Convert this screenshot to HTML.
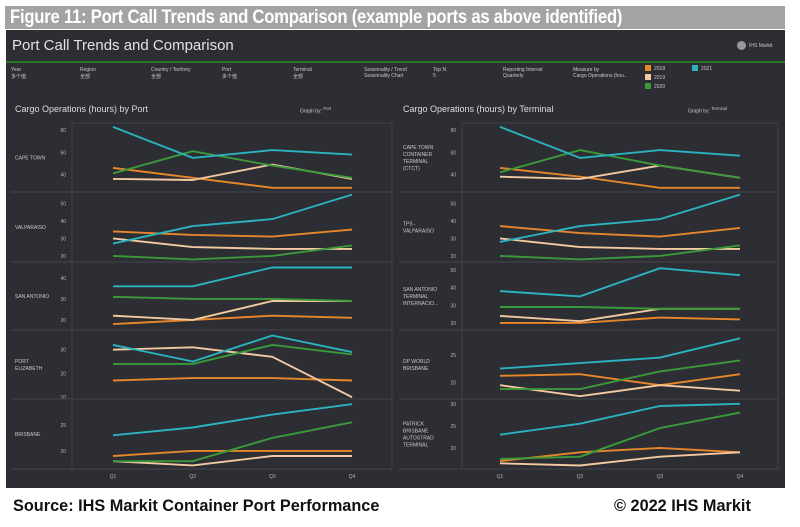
<!DOCTYPE html>
<html><head><meta charset="utf-8"><style>
body{margin:0;width:800px;height:527px;background:#fff;font-family:"Liberation Sans",sans-serif;position:relative;overflow:hidden}
.abs{position:absolute}
#titlebar{left:5px;top:6px;width:780px;height:23px;background:#a3a3a3;}
#titletext{left:10px;top:6px;color:#fff;font-weight:bold;font-size:19px;line-height:23px;transform:scaleX(0.88);transform-origin:0 50%;white-space:nowrap;letter-spacing:-0.3px}
#panel{left:6px;top:30px;width:779px;height:458px;background:#2d2e33}
.t{color:#c9c9c9;font-size:5px;position:absolute;white-space:nowrap}
.foot{font-weight:bold;font-size:16.3px;color:#111;top:497px}
</style></head><body>
<div id="titlebar" class="abs"></div>
<div id="titletext" class="abs">Figure 11: Port Call Trends and Comparison (example ports as above identified)</div>
<div id="panel" class="abs"></div>
<div class="abs" style="left:12px;top:37px;font-size:15px;color:#e2e2e2">Port Call Trends and Comparison</div>
<div class="abs" style="left:737px;top:41px;width:9px;height:9px;border-radius:50%;background:#999"></div>
<div class="t" style="left:749px;top:43px">IHS Markit</div>
<div class="abs" style="left:6px;top:61px;width:779px;height:2px;background:#2a7a2a"></div>
<div class="t" style="left:11px;top:67px">Year<br>多个值</div>
<div class="t" style="left:80px;top:67px">Region<br>全部</div>
<div class="t" style="left:151px;top:67px">Country / Territory<br>全部</div>
<div class="t" style="left:222px;top:67px">Port<br>多个值</div>
<div class="t" style="left:293px;top:67px">Terminal<br>全部</div>
<div class="t" style="left:364px;top:67px">Seasonality / Trend<br>Seasonality Chart</div>
<div class="t" style="left:433px;top:67px">Top N<br>5</div>
<div class="t" style="left:503px;top:67px">Reporting Interval<br>Quarterly</div>
<div class="t" style="left:573px;top:67px">Measure by<br>Cargo Operations (hou..</div>
<div>
<div class="abs" style="left:645px;top:65px;width:6px;height:6px;background:#e8872a"></div><div class="t" style="left:654px;top:66px">2018</div>
<div class="abs" style="left:645px;top:74px;width:6px;height:6px;background:#f2c9a0"></div><div class="t" style="left:654px;top:75px">2019</div>
<div class="abs" style="left:645px;top:83px;width:6px;height:6px;background:#3a9a3a"></div><div class="t" style="left:654px;top:84px">2020</div>
<div class="abs" style="left:692px;top:65px;width:6px;height:6px;background:#2bb3c0"></div><div class="t" style="left:701px;top:66px">2021</div>
</div>
<div class="abs" style="left:15px;top:104px;font-size:9px;color:#ddd">Cargo Operations (hours) by Port</div>
<div class="t" style="left:300px;top:106px">Graph by: <sup>Port</sup></div>
<div class="abs" style="left:403px;top:104px;font-size:9px;color:#ddd">Cargo Operations (hours) by Terminal</div>
<div class="t" style="left:688px;top:106px">Graph by: <sup>Terminal</sup></div>
<svg class="abs" style="left:0;top:0" width="800" height="527" id="charts"></svg>
<div class="abs foot" style="left:13px">Source: IHS Markit Container Port Performance</div>
<div class="abs foot" style="left:614px">© 2022 IHS Markit</div>
<script>
const quarters=["Q1","Q2","Q3","Q4"];
const portNames=["CAPE TOWN","VALPARAISO","SAN ANTONIO","PORT ELIZABETH","BRISBANE"];
const portTicks=[[80,60,40],[50,40,30,20],[40,30,20],[30,20,10],[25,20]];
const portDomains=[[86.5,24.2],[56.5,16.5],[47.6,15.2],[38.3,9.2],[30,16.5]];
const port2018=[[46,37,28,28],[34,32,31,35],[18,20,22,21],[17,18,18,17],[19,20,20,20]];
const port2019=[[36,35,49,36],[30,25,24,24],[22,20,29,29],[30,31,27,10],[18,17.2,19,19]];
const port2020=[[41,61,48,37],[20,18,20,26],[31,30,30,29],[24,24,32,28],[18,18,22.5,25.5]];
const port2021=[[83,55,62,58],[27,37,41,55],[36,36,45,45],[32,25,36,29],[23,24.5,27,29]];
const termNames=["CAPE TOWN CONTAINER TERMINAL (CTCT)","TPS - VALPARAISO","SAN ANTONIO TERMINAL INTERNACIO...","DP WORLD BRISBANE","PATRICK BRISBANE AUTOSTRAD TERMINAL"];
const termTicks=[[80,60,40],[50,40,30,20],[50,40,30,20],[25,20],[30,25,20]];
const termDomains=[[86.5,24.2],[56.5,16.5],[54.5,16],[29.5,17],[31.1,15.2]];
const term2018=[[46,38,28,28],[37,33,31,36],[20,20,23,22],[21.2,21.5,19.5,21.5],[17,19,20,19]];
const term2019=[[38,36,48,37],[30,25,24,24],[24,21,28,28],[19.5,17.5,19.5,18.5],[16.5,16,18,19]];
const term2020=[[42,62,48,37],[20,18,20,26],[29,29,28,28],[18.8,18.8,22,24],[17.5,18,24.5,28]];
const term2021=[[83,55,62,57],[28,37,41,55],[38,35,51,47],[22.5,23.5,24.5,28],[23,25.5,29.5,30]];

const NS="http://www.w3.org/2000/svg";
const svg=document.getElementById('charts');
const rowEdges=[123,192,262,330,399,469];
const colors={y2018:"#e8872a",y2019:"#f2c9a0",y2020:"#3a9a3a",y2021:"#2bb3c0"};
function mk(tag,attrs){const e=document.createElementNS(NS,tag);for(const k in attrs)e.setAttribute(k,attrs[k]);svg.appendChild(e);return e;}
function drawChart(prefix,cfg){
  const xs=q=>cfg.q1+(cfg.q4-cfg.q1)*q/(quarters.length-1);
  const fr=mk('rect',{x:cfg.plotL,y:rowEdges[0],width:cfg.plotR-cfg.plotL,height:rowEdges[5]-rowEdges[0],fill:'none',stroke:'#3f4147','stroke-width':1});
  
  
  const lbar=mk('line',{x1:cfg.labelL,x2:cfg.plotR,y1:rowEdges[5],y2:rowEdges[5],stroke:'#45474d'});
  
  
  cfg.names.forEach((nm,r)=>{
    const top=rowEdges[r],bot=rowEdges[r+1];
    const [hi,lo]=cfg.domains[r];
    const ys=v=>top+(hi-v)/(hi-lo)*(bot-top);
    if(r>0){const sep=mk('line',{x1:cfg.labelL,x2:cfg.plotR,y1:top,y2:top,stroke:'#45474d'});
      
      }
    const words=nm.split(' ');
    const lines=[];let cur='';
    words.forEach(w=>{if((cur+' '+w).trim().length>cfg.wrap&&cur){lines.push(cur);cur=w;}else cur=(cur+' '+w).trim();});
    lines.push(cur);
    const mid=(top+bot)/2-(lines.length-1)*3.5;
    const lt=mk('text',{x:cfg.labelL+4,y:mid+2,fill:'#c9c9c9','font-size':5,'font-family':'Liberation Sans, sans-serif'});
    
    
    lines.forEach((l,i)=>{const ts=document.createElementNS(NS,'tspan');ts.setAttribute('x',cfg.labelL+4);ts.setAttribute('dy',i?7:0);ts.textContent=l;lt.appendChild(ts);});
    cfg.ticks[r].forEach(tv=>{
      const tk=mk('text',{x:cfg.plotL-6,y:ys(tv)+2,fill:'#b5b5b5','font-size':5,'text-anchor':'end','font-family':'Liberation Sans, sans-serif'});
      
      
      tk.textContent=tv;
    });
    [['y2018',cfg.s18],['y2019',cfg.s19],['y2020',cfg.s20],['y2021',cfg.s21]].forEach(([k,s])=>{
      const pts=s[r].map((v,i)=>xs(i).toFixed(1)+','+ys(v).toFixed(1)).join(' ');
      const pl=mk('polyline',{points:pts,fill:'none',stroke:colors[k],'stroke-width':1.9,'stroke-linejoin':'round'});
      
      
    });
  });
  quarters.forEach((q,i)=>{
    const qt=mk('text',{x:xs(i),y:478,fill:'#b5b5b5','font-size':5,'text-anchor':'middle','font-family':'Liberation Sans, sans-serif'});
    
    
    qt.textContent=q;
  });
}
drawChart('port',{names:portNames,ticks:portTicks,domains:portDomains,s18:port2018,s19:port2019,s20:port2020,s21:port2021,labelL:11,plotL:72,plotR:392,q1:113,q4:352,wrap:11});
drawChart('terminal',{names:termNames,ticks:termTicks,domains:termDomains,s18:term2018,s19:term2019,s20:term2020,s21:term2021,labelL:399,plotL:462,plotR:778,q1:500,q4:740,wrap:11});
</script>
</body></html>
